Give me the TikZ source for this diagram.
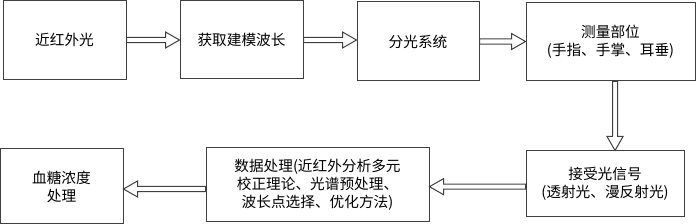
\documentclass[tikz,border=0pt]{standalone}
\usepackage{fontspec}
\setmainfont{Liberation Serif}
\newfontfamily\cjk{Noto Sans CJK SC}
\usetikzlibrary{calc}

\tikzset{
  box/.style={draw=black!75, line width=0.75pt, align=center, inner sep=2pt,
    font=\cjk\fontsize{11}{13.5}\selectfont},
  sz/.style 2 args={minimum width=#1*0.75pt, minimum height=#2*0.75pt},
  blockarrow/.style={draw=black!75, line width=0.75pt,
    to path={let \p1=($(\tikztotarget)-(\tikztostart)$),
      \n1={atan2(\y1,\x1)}, \n2={veclen(\x1,\y1)} in
      {[shift={(\tikztostart)}, rotate=\n1]
      (0pt,1.9pt) -- (\n2-10.5pt,1.9pt) -- (\n2-10.5pt,6pt) -- (\n2,0pt)
      -- (\n2-10.5pt,-6pt) -- (\n2-10.5pt,-1.9pt) -- (0pt,-1.9pt) -- cycle}}}
}

\begin{document}
\begin{tikzpicture}[x=0.75pt,y=-0.75pt]
  \useasboundingbox (0,0) rectangle (700,224);

  % top row
  \node[box,sz={123}{79}] (nir)   at (64.5,40)  {近红外光};
  \node[box,sz={123}{78}] (wave)  at (241.5,40) {获取建模波长};
  \node[box,sz={122}{79}] (split) at (418,41.5) {分光系统};
  \node[box,sz={169}{78}] (site)  at (610.5,42) {测量部位\\(手指、手掌、耳垂)};

  % bottom row
  \node[box,sz={158}{66}] (recv)  at (605,184)   {接受光信号\\(透射光、漫反射光)};
  \node[box,sz={223}{74}] (data)  at (317.5,185) {数据处理(近红外分析多元\\校正理论、光谱预处理、\\波长点选择、优化方法)};
  \node[box,sz={123}{75}] (sugar) at (61.5,186.5) {血糖浓度\\处理};

  \draw[blockarrow] (nir.east) to (wave.west);
  \draw[blockarrow] (wave.east) to (wave.east -| split.west);
  \draw[blockarrow] (split.east) to (split.east -| site.west);
  \draw[blockarrow] ([xshift=3.4pt]site.south) to ([xshift=3.4pt]site.south |- recv.north);
  \draw[blockarrow] ([yshift=-2pt]recv.west) to ([yshift=-2pt]recv.west -| data.east);
  \draw[blockarrow] ([yshift=-3pt]data.west) to ([yshift=-3pt]data.west -| sugar.east);
\end{tikzpicture}
\end{document}
